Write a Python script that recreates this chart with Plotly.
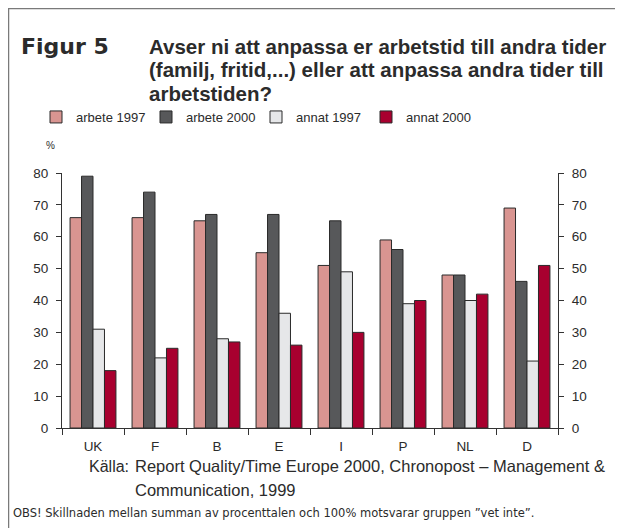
import plotly.graph_objects as go

# ── Data ────────────────────────────────────────────────────────────────
countries = ["UK", "F", "B", "E", "I", "P", "NL", "D"]
arbete_1997 = [66, 66, 65, 55, 51, 59, 48, 69]
arbete_2000 = [79, 74, 67, 67, 65, 56, 48, 46]
annat_1997 = [31, 22, 28, 36, 49, 39, 40, 21]
annat_2000 = [18, 25, 27, 26, 30, 40, 42, 51]

series = [
    ("arbete 1997", arbete_1997, "#D99591"),
    ("arbete 2000", arbete_2000, "#57585A"),
    ("annat 1997", annat_1997, "#E6E7E9"),
    ("annat 2000", annat_2000, "#A8002F"),
]

title_lines = [
    "Avser ni att anpassa er arbetstid till andra tider",
    "(familj, fritid,...) eller att anpassa andra tider till",
    "arbetstiden?",
]

FONT = "Liberation Sans"
TXT = "#2b2b2b"

# page puts the figure 8px in from the top-left corner
OFF = 8
W, H = 623 - OFF, 528 - OFF
# plot area in screen pixels
L, R, T, B = 62, 558, 173, 428


def px(x):
    return (x - L) / (R - L)


def py(y):
    return (B - y) / (B - T)


fig = go.Figure()

for name, vals, color in series:
    fig.add_trace(
        go.Bar(
            x=countries,
            y=vals,
            name=name,
            marker=dict(color=color, line=dict(color="#2a2a2a", width=1)),
        )
    )

# invisible trace so the right axis is drawn
fig.add_trace(
    go.Scatter(x=countries[:1], y=[None], yaxis="y2", showlegend=False,
               hoverinfo="skip")
)

axis_y = dict(
    range=[0, 80],
    dtick=10,
    ticks="outside",
    ticklen=5,
    tickcolor="#333",
    ticklabelstandoff=5,
    showline=True,
    linecolor="#333",
    linewidth=1,
    showgrid=False,
    zeroline=False,
    tickfont=dict(family=FONT, size=13.5, color=TXT),
)

fig.update_layout(
    width=W,
    height=H,
    margin=dict(l=L - OFF, r=W - (R - OFF), t=T - OFF, b=H - (B - OFF)),
    plot_bgcolor="white",
    paper_bgcolor="white",
    barmode="group",
    bargap=0.26,
    bargroupgap=0,
    font=dict(family=FONT, color=TXT),
    xaxis=dict(
        tickson="boundaries",
        ticks="outside",
        ticklen=6,
        tickcolor="#333",
        ticklabelstandoff=6,
        showline=True,
        linecolor="#333",
        linewidth=1,
        showgrid=False,
        tickfont=dict(family=FONT, size=13.5, color=TXT),
    ),
    yaxis=axis_y,
    yaxis2=dict(axis_y, overlaying="y", side="right"),
    legend=dict(
        orientation="h",
        x=px(36),
        xanchor="left",
        y=py(117),
        yanchor="middle",
        entrywidth=65,
        entrywidthmode="pixels",
        itemwidth=30,
        font=dict(family=FONT, size=13, color=TXT),
        bgcolor="rgba(0,0,0,0)",
    ),
    showlegend=True,
)

# frame around the figure
fig.add_shape(
    type="rect", xref="paper", yref="paper",
    x0=px(8.5), x1=px(616), y0=py(560), y1=py(8.5),
    line=dict(color="#7a7a7a", width=1.5),
)

notes = [
    dict(text="<b>Figur 5</b>", x=px(19), y=py(46), xanchor="left",
         yanchor="middle", font=dict(family="DejaVu Sans", size=22)),
    dict(text="%", x=px(50), y=py(146), xanchor="center", yanchor="middle",
         font=dict(family=FONT, size=10)),
    dict(text="Källa:", x=px(87), y=py(466), xanchor="left",
         yanchor="middle", font=dict(family=FONT, size=16)),
    dict(text="Report Quality/Time Europe 2000, Chronopost – Management &",
         x=px(133), y=py(466), xanchor="left", yanchor="middle",
         font=dict(family=FONT, size=16.5)),
    dict(text="Communication, 1999", x=px(133), y=py(490), xanchor="left",
         yanchor="middle", font=dict(family=FONT, size=16.5)),
    dict(text="OBS! Skillnaden mellan summan av procenttalen och 100% "
              "motsvarar gruppen \u201dvet inte\u201d.",
         x=px(11), y=py(513), xanchor="left", yanchor="middle",
         font=dict(family="DejaVu Sans", size=11.5)),
]
for i, line in enumerate(title_lines):
    notes.append(dict(text=f"<b>{line}</b>", x=px(147), y=py(46 + 23.5 * i),
                      xanchor="left", yanchor="middle",
                      font=dict(family=FONT, size=20.5)))

for n in notes:
    fig.add_annotation(xref="paper", yref="paper", showarrow=False,
                       **{k: v for k, v in n.items() if k != "font"},
                       font=dict(color=TXT, **n["font"]))

fig.write_html("out.html")
